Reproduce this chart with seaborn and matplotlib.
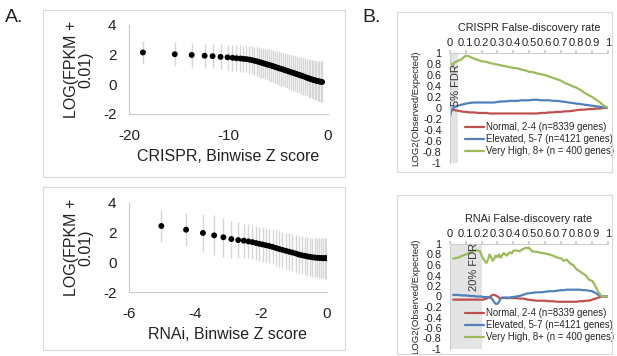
import numpy as np
import pandas as pd
import matplotlib
matplotlib.use("Agg")
import matplotlib.pyplot as plt
import seaborn as sns
from matplotlib.patches import Rectangle

# ---- data: panel A (binned z score vs expression) ----
crispr_z = [-18.6, -15.4, -13.7, -12.4, -11.6, -10.8, -10.1, -9.6, -9.2, -8.8,
            -8.5, -8.2, -7.9, -7.65, -7.4, -7.15, -6.9, -6.7, -6.5, -6.3,
            -6.1, -5.9, -5.7, -5.5, -5.3, -5.1, -4.9, -4.7, -4.5, -4.3,
            -4.1, -3.9, -3.7, -3.5, -3.3, -3.1, -2.9, -2.7, -2.5, -2.3,
            -2.1, -1.95, -1.8, -1.65, -1.5, -1.35, -1.2, -1.05, -0.9, -0.75, -0.6]
crispr_fpkm = [2.15, 2.03, 1.98, 1.93, 1.9, 1.85, 1.82, 1.79, 1.76, 1.74,
               1.72, 1.7, 1.67, 1.63, 1.59, 1.55, 1.5, 1.46, 1.42, 1.38,
               1.34, 1.3, 1.26, 1.22, 1.17, 1.13, 1.08, 1.04, 1.0, 0.95,
               0.91, 0.86, 0.82, 0.77, 0.73, 0.68, 0.64, 0.59, 0.55, 0.5,
               0.44, 0.41, 0.37, 0.34, 0.31, 0.28, 0.25, 0.22, 0.2, 0.18, 0.16]
crispr_sd = [0.8, 0.8, 0.8, 0.82, 0.82, 0.84, 0.85, 0.86, 0.87, 0.88,
             0.89, 0.9, 0.91, 0.93, 0.95, 0.97, 0.99, 1.0, 1.02, 1.03,
             1.05, 1.06, 1.08, 1.09, 1.1, 1.11, 1.12, 1.13, 1.14, 1.15,
             1.16, 1.17, 1.18, 1.19, 1.2, 1.21, 1.22, 1.23, 1.24, 1.25,
             1.26, 1.27, 1.28, 1.29, 1.3, 1.31, 1.32, 1.33, 1.35, 1.36, 1.38]

rnai_z = [-5.02, -4.27, -3.76, -3.42, -3.14, -2.9, -2.69, -2.52, -2.38, -2.26,
          -2.15, -2.05, -1.95, -1.85, -1.75, -1.65, -1.55, -1.45, -1.35, -1.25,
          -1.15, -1.05, -0.95, -0.86, -0.77, -0.68, -0.6, -0.52, -0.44, -0.37,
          -0.3, -0.24, -0.18, -0.12, -0.07, -0.03]
rnai_fpkm = [2.45, 2.2, 1.98, 1.82, 1.69, 1.57, 1.5, 1.46, 1.41, 1.36,
             1.3, 1.25, 1.2, 1.15, 1.1, 1.04, 0.97, 0.9, 0.84, 0.78,
             0.72, 0.66, 0.6, 0.53, 0.48, 0.44, 0.4, 0.37, 0.34, 0.32,
             0.31, 0.3, 0.29, 0.28, 0.28, 0.28]
rnai_sd = [1.05, 1.1, 1.3, 1.35, 1.3, 1.25, 1.2, 1.15, 1.15, 1.15,
           1.15, 1.15, 1.15, 1.16, 1.17, 1.18, 1.19, 1.2, 1.21, 1.22,
           1.23, 1.24, 1.25, 1.26, 1.27, 1.28, 1.29, 1.3, 1.31, 1.32,
           1.33, 1.34, 1.35, 1.36, 1.37, 1.38]

# ---- data: panel B (enrichment along FDR) ----
series_names = ["Normal, 2-4 (n=8339 genes)",
                "Elevated, 5-7 (n=4121 genes)",
                "Very High, 8+ (n = 400 genes)"]
series_colors = ["#c0504d", "#4f81bd", "#9bbb59"]

crispr_fdr = [0, 0.01, 0.02, 0.03, 0.05, 0.07, 0.09, 0.1, 0.12, 0.15, 0.18, 0.2,
              0.23, 0.25, 0.28, 0.3, 0.33, 0.35, 0.38, 0.4, 0.43, 0.45, 0.48, 0.5,
              0.53, 0.55, 0.58, 0.6, 0.63, 0.65, 0.68, 0.7, 0.73, 0.75, 0.78, 0.8,
              0.83, 0.85, 0.88, 0.9, 0.93, 0.95, 0.97, 1.0]
crispr_normal = [-0.05, -0.03, -0.03, -0.04, -0.05, -0.06, -0.07, -0.07, -0.08, -0.08, -0.09, -0.09,
                 -0.09, -0.1, -0.1, -0.1, -0.1, -0.1, -0.1, -0.1, -0.1, -0.1, -0.1, -0.1,
                 -0.1, -0.1, -0.09, -0.09, -0.08, -0.08, -0.07, -0.07, -0.06, -0.06, -0.05, -0.04,
                 -0.03, -0.03, -0.02, -0.02, -0.01, -0.01, 0.0, 0.0]
crispr_elevated = [-0.15, -0.05, 0.0, 0.02, 0.04, 0.06, 0.07, 0.08, 0.09, 0.1, 0.1, 0.1,
                   0.1, 0.1, 0.1, 0.11, 0.12, 0.12, 0.13, 0.13, 0.13, 0.14, 0.14, 0.14,
                   0.15, 0.15, 0.14, 0.14, 0.14, 0.13, 0.13, 0.12, 0.11, 0.1, 0.09, 0.08,
                   0.07, 0.06, 0.05, 0.04, 0.03, 0.02, 0.01, 0.0]
crispr_veryhigh = [0.84, 0.8, 0.78, 0.83, 0.86, 0.88, 0.93, 0.95, 0.94, 0.9, 0.87, 0.85,
                   0.84, 0.82, 0.8, 0.79, 0.77, 0.76, 0.74, 0.73, 0.72, 0.7, 0.68, 0.66,
                   0.65, 0.63, 0.61, 0.6, 0.57, 0.55, 0.52, 0.5, 0.45, 0.43, 0.39, 0.37,
                   0.32, 0.28, 0.23, 0.2, 0.14, 0.1, 0.05, 0.0]

rnai_fdr = [0.02, 0.05, 0.08, 0.1, 0.13, 0.15, 0.17, 0.19,
            0.2, 0.21, 0.22, 0.23, 0.24, 0.25, 0.26, 0.27, 0.28, 0.29, 0.3,
            0.31, 0.32, 0.33, 0.34, 0.35, 0.36, 0.37, 0.38, 0.39, 0.4,
            0.42, 0.44, 0.46, 0.48, 0.49, 0.5, 0.52, 0.55, 0.58, 0.6,
            0.63, 0.65, 0.68, 0.7, 0.72, 0.74, 0.76, 0.78, 0.8, 0.82,
            0.84, 0.86, 0.88, 0.9, 0.92, 0.94, 0.96, 0.97, 1.0]
rnai_normal = [-0.06, -0.06, -0.06, -0.06, -0.06, -0.06, -0.06, -0.06,
               -0.06, -0.06, -0.05, -0.04, -0.03, -0.01, 0.01, 0.03, 0.03, 0.02, 0.0,
               -0.02, -0.03, -0.03, -0.03, -0.03, -0.03, -0.03, -0.03, -0.03, -0.03,
               -0.03, -0.04, -0.04, -0.05, -0.06, -0.06, -0.07, -0.08, -0.08, -0.08,
               -0.09, -0.09, -0.1, -0.1, -0.1, -0.1, -0.1, -0.1, -0.1, -0.09,
               -0.09, -0.08, -0.08, -0.06, -0.04, -0.02, 0.0, 0.0, 0.0]
rnai_elevated = [0.03, 0.03, 0.02, 0.02, 0.01, 0.01, 0.0, 0.0,
                 0.0, -0.01, -0.01, -0.01, -0.01, -0.02, -0.03, -0.06, -0.11, -0.14, -0.14,
                 -0.1, -0.04, -0.02, -0.02, -0.02, -0.02, -0.02, -0.02, -0.01, -0.01,
                 0.0, 0.01, 0.03, 0.05, 0.06, 0.06, 0.07, 0.08, 0.08, 0.09,
                 0.1, 0.1, 0.11, 0.12, 0.12, 0.13, 0.13, 0.13, 0.13, 0.13,
                 0.12, 0.12, 0.11, 0.1, 0.07, 0.03, 0.0, 0.0, 0.0]
rnai_veryhigh = [0.72, 0.74, 0.78, 0.8, 0.85, 0.87, 0.88, 0.86,
                 0.78, 0.72, 0.68, 0.64, 0.7, 0.8, 0.75, 0.68, 0.72, 0.78, 0.75,
                 0.8, 0.74, 0.78, 0.83, 0.8, 0.78, 0.82, 0.84, 0.82, 0.87,
                 0.88, 0.86, 0.9, 0.93, 0.92, 0.93, 0.86, 0.85, 0.83, 0.82,
                 0.8, 0.78, 0.74, 0.73, 0.68, 0.7, 0.63, 0.6, 0.52, 0.48,
                 0.44, 0.4, 0.32, 0.3, 0.2, 0.08, 0.0, 0.0, 0.0]

fdr_ticks = [0, 0.1, 0.2, 0.3, 0.4, 0.5, 0.6, 0.7, 0.8, 0.9, 1]
fdr_tick_labels = ["0", "0.1", "0.2", "0.3", "0.4", "0.5", "0.6", "0.7", "0.8", "0.9", "1"]
ratio_ticks = [1, 0.8, 0.6, 0.4, 0.2, 0, -0.2, -0.4, -0.6, -0.8, -1]

sns.set_theme(style="white")
plt.rcParams["font.family"] = ["Liberation Sans", "DejaVu Sans"]
plt.rcParams["axes.unicode_minus"] = False

W, H = 617, 356
fig = plt.figure(figsize=(W / 100, H / 100), dpi=100)


def fig_rect(x0, y0, x1, y1):
    # pixel box (top-left origin) -> figure fraction [left, bottom, width, height]
    return [x0 / W, 1 - y1 / H, (x1 - x0) / W, (y1 - y0) / H]


# light frames around each panel
for x0, y0, x1, y1 in [(43, 10, 345, 177), (43, 187, 345, 350),
                       (397, 12, 612, 172), (397, 195, 612, 354)]:
    fig.patches.append(Rectangle((x0 / W, 1 - y1 / H), (x1 - x0) / W, (y1 - y0) / H,
                                 transform=fig.transFigure, fill=False,
                                 edgecolor="#d9d9d9", lw=0.8))

fig.text(5 / W, 1 - 22 / H, "A.", fontsize=14, color="#222222")
fig.text(362 / W, 1 - 22 / H, "B.", fontsize=14, color="#222222")


def panel_a(rect, z, fpkm, sd, xticks, xlabel):
    ax = fig.add_axes(rect)
    ax.errorbar(z, fpkm, yerr=sd, fmt="none", ecolor="#d6d6d6", elinewidth=1.0,
                capsize=0, zorder=1)
    df = pd.DataFrame({"z": z, "fpkm": fpkm})
    sns.scatterplot(data=df, x="z", y="fpkm", color="black", s=18,
                    edgecolor="none", ax=ax, zorder=3)
    ax.set_xlim(xticks[0], xticks[-1])
    ax.set_ylim(-2, 4)
    ax.set_xticks(xticks)
    ax.set_yticks([-2, 0, 2, 4])
    for s in ["top", "right"]:
        ax.spines[s].set_visible(False)
    for s in ["left", "bottom"]:
        ax.spines[s].set_color("#c8c8c8")
        ax.spines[s].set_linewidth(0.8)
    ax.tick_params(axis="x", direction="out", length=3, color="#c8c8c8",
                   labelsize=11, labelcolor="#222222", pad=8)
    ax.tick_params(axis="y", direction="out", length=3, color="#c8c8c8",
                   labelsize=11, labelcolor="#222222", pad=6)
    ax.set_xlabel(xlabel, fontsize=11.5, color="#222222", labelpad=4)
    ax.set_ylabel("LOG(FPKM +\n0.01)", fontsize=11.5, color="#222222",
                  linespacing=0.9, labelpad=7)
    return ax


panel_a(fig_rect(129, 25, 328, 114), crispr_z, crispr_fpkm, crispr_sd,
        [-20, -10, 0], "CRISPR, Binwise Z score")
panel_a(fig_rect(129, 203, 327, 292), rnai_z, rnai_fpkm, rnai_sd,
        [-6, -4, -2, 0], "RNAi, Binwise Z score")


def panel_b(rect, fdr, normal, elevated, veryhigh, shade, shade_label, label_xy, title):
    ax = fig.add_axes(rect)
    ax.axvspan(0, shade, color="#e4e4e4", lw=0, zorder=0)
    long = pd.DataFrame({
        "fdr": list(fdr) * 3,
        "ratio": list(normal) + list(elevated) + list(veryhigh),
        "group": [series_names[0]] * len(fdr) + [series_names[1]] * len(fdr)
                 + [series_names[2]] * len(fdr),
    })
    sns.lineplot(data=long, x="fdr", y="ratio", hue="group", hue_order=series_names,
                 palette=series_colors, estimator=None, sort=False, lw=1.6, ax=ax)
    ax.text(label_xy[0], label_xy[1], shade_label, rotation=90, fontsize=8,
            color="#333333", ha="center", va="center")
    ax.set_xlim(0, 1)
    ax.set_ylim(-1, 1)
    ax.set_xticks(fdr_ticks)
    ax.set_xticklabels(fdr_tick_labels)
    ax.set_yticks(ratio_ticks)
    ax.set_yticklabels([f"{t:g}" for t in ratio_ticks])
    ax.xaxis.tick_top()
    ax.xaxis.set_label_position("top")
    for s in ["bottom", "right"]:
        ax.spines[s].set_visible(False)
    for s in ["top", "left"]:
        ax.spines[s].set_color("#cccccc")
        ax.spines[s].set_linewidth(0.8)
    ax.tick_params(axis="x", direction="out", length=2.5, color="#cccccc",
                   labelsize=8, pad=1, labelcolor="#222222")
    ax.tick_params(axis="y", length=0, labelsize=7.8, pad=6, labelcolor="#222222")
    ax.set_xlabel(title, fontsize=7.8, color="#222222", labelpad=5)
    ax.set_ylabel("LOG2(Observed/Expected)", fontsize=6.8, color="#222222", labelpad=2)
    ax.legend(loc="lower left", bbox_to_anchor=(0.07, 0.03), frameon=False,
              fontsize=6.9, handlelength=2.0, handletextpad=0.2, labelspacing=0.2,
              borderaxespad=0)
    return ax


panel_b(fig_rect(450, 53, 608, 163), crispr_fdr, crispr_normal, crispr_elevated,
        crispr_veryhigh, 0.05, "5% FDR", (0.04, 0.42), "CRISPR False-discovery rate")
panel_b(fig_rect(450, 244, 608, 349), rnai_fdr, rnai_normal, rnai_elevated,
        rnai_veryhigh, 0.2, "20% FDR", (0.15, 0.57), "RNAi False-discovery rate")

fig.savefig("out.png", dpi=100)
